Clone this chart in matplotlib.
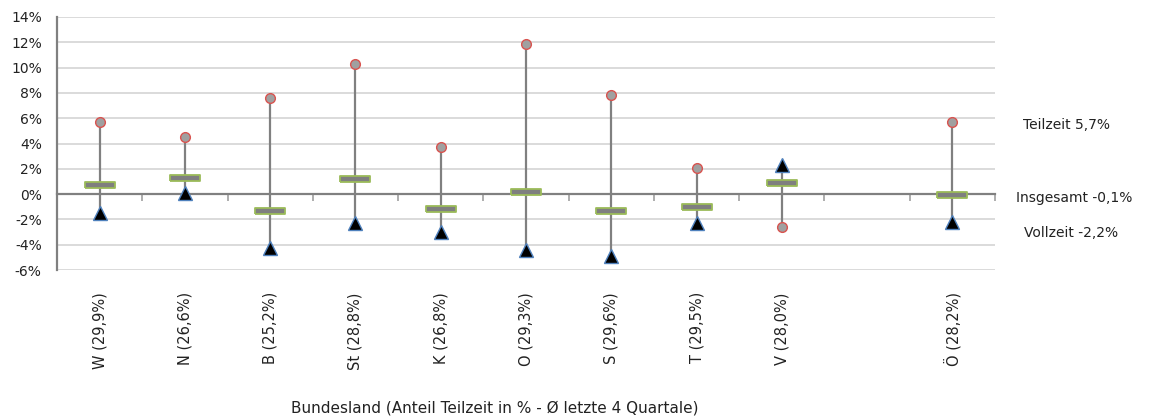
import matplotlib
matplotlib.use("Agg")
import matplotlib.pyplot as plt
import numpy as np

categories = ["W (29,9%)", "N (26,6%)", "B (25,2%)", "St (28,8%)", "K (26,8%)",
              "O (29,3%)", "S (29,6%)", "T (29,5%)", "V (28,0%)", "", "Ö (28,2%)"]
teilzeit = [5.7, 4.5, 7.6, 10.3, 3.7, 11.9, 7.8, 2.1, -2.6, None, 5.7]
vollzeit = [-1.5, 0.1, -4.3, -2.3, -3.0, -4.4, -4.9, -2.3, 2.3, None, -2.2]
insgesamt = [0.7, 1.3, -1.3, 1.2, -1.2, 0.2, -1.3, -1.0, 0.9, None, -0.1]
yticks = [-6, -4, -2, 0, 2, 4, 6, 8, 10, 12, 14]

plt.rcParams['font.family'] = ['DejaVu Sans']
fig = plt.figure(figsize=(11.52, 4.17), dpi=100)
ax = fig.add_axes([57/1152, 1-270/417, (995-57)/1152, (270-17)/417])

x = np.arange(len(categories))
gray = '#808080'
for i in x:
    if teilzeit[i] is None:
        continue
    lo = min(teilzeit[i], vollzeit[i]); hi = max(teilzeit[i], vollzeit[i])
    ax.plot([i, i], [lo, hi], color=gray, lw=1.6, zorder=3)

idx = [i for i in x if teilzeit[i] is not None]
bar_marker = [(-2, -0.45), (2, -0.45), (2, 0.45), (-2, 0.45), (-2, -0.45)]
ax.plot(idx, [insgesamt[i] for i in idx], ls='none', marker=bar_marker, ms=22,
        mfc='#7f7f7f', mec='#9bbb59', mew=1.3, zorder=4)
ax.plot(idx, [teilzeit[i] for i in idx], ls='none', marker='o', ms=7,
        mfc='#a0a0a0', mec='#d9534f', mew=1.0, zorder=5)
ax.plot(idx, [vollzeit[i] for i in idx], ls='none', marker='^', ms=9.5,
        mfc='black', mec='#4f81bd', mew=1.0, zorder=5)

ax.set_xlim(-0.5, len(categories) - 0.5)
ax.set_ylim(-6, 14)
ax.set_yticks(yticks)
ax.set_yticklabels([f"{v}%" for v in yticks], fontsize=10, color='#222222')
ax.yaxis.grid(True, color='#d4d4d4', lw=1.2)
ax.set_axisbelow(True)
ax.tick_params(axis='y', length=0, pad=11)
for s in ['top', 'right', 'bottom']:
    ax.spines[s].set_visible(False)
ax.spines['left'].set_color(gray)
ax.spines['left'].set_linewidth(1.6)

ax.set_xticks(x)
ax.set_xticklabels(categories, rotation=90, fontsize=10.5, color='#222222')
ax.tick_params(axis='x', length=0, pad=16)

# zero line axis with boundary ticks
zero_pos = (0 - (-6)) / (14 - (-6))
sec = ax.secondary_xaxis(zero_pos)
sec.set_xticks(np.arange(len(categories) + 1) - 0.5)
sec.set_xticklabels([])
sec.tick_params(axis='x', direction='out', length=5, color='#a0a0a0', width=1.2)
sec.spines['bottom'].set_color(gray)
sec.spines['bottom'].set_linewidth(1.6)
sec.set_zorder(2)

fig.text(495/1152, 1-408/417, "Bundesland (Anteil Teilzeit in % - Ø letzte 4 Quartale)",
         ha='center', va='center', fontsize=11, color='#222222')
fig.text(1023/1152, 1-125/417, "Teilzeit 5,7%", ha='left', va='center', fontsize=10, color='#222222')
fig.text(1016/1152, 1-198/417, "Insgesamt -0,1%", ha='left', va='center', fontsize=10, color='#222222')
fig.text(1024/1152, 1-233/417, "Vollzeit -2,2%", ha='left', va='center', fontsize=10, color='#222222')

fig.savefig("out.png", dpi=100)
